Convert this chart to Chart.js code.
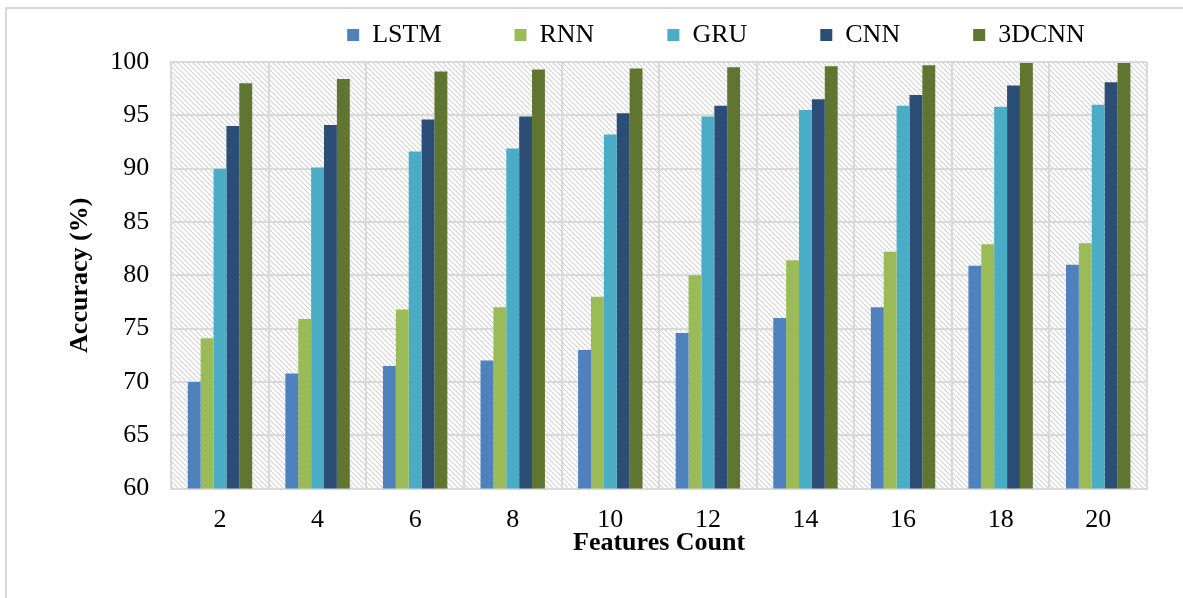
<!DOCTYPE html>
<html>
<head>
<meta charset="utf-8">
<script src="https://cdn.jsdelivr.net/npm/chart.js@4.4.0/dist/chart.umd.min.js"></script>
<style>
  html, body { margin: 0; padding: 0; background: #fff; overflow: hidden; }
  #frame { position: absolute; left: 5px; top: 7px; width: 1300px; height: 700px;
           border-left: 2px solid #d9d9d9; border-top: 2px solid #d9d9d9; }
  #accChart { position: absolute; left: 0; top: 0; }
</style>
</head>
<body>
<div id="frame"></div>
<canvas id="accChart" width="1183" height="598"></canvas>
<script>
// accuracy vs features count

var featureCounts = ['2', '4', '6', '8', '10', '12', '14', '16', '18', '20'];
var lstmAcc  = [70.0, 70.8, 71.5, 72.0, 73.0, 74.6, 76.0, 77.0, 80.9, 81.0];
var rnnAcc   = [74.1, 75.9, 76.8, 77.0, 78.0, 80.0, 81.4, 82.2, 82.9, 83.0];
var gruAcc   = [90.0, 90.1, 91.6, 91.9, 93.2, 94.9, 95.5, 95.9, 95.8, 96.0];
var cnnAcc   = [94.0, 94.1, 94.6, 94.9, 95.2, 95.9, 96.5, 96.9, 97.8, 98.1];
var cnn3dAcc = [98.0, 98.4, 99.1, 99.3, 99.4, 99.5, 99.6, 99.7, 99.9, 99.9];
var yTicks = [60, 65, 70, 75, 80, 85, 90, 95, 100];

var serif = "'Liberation Serif', 'Times New Roman', serif";

function makeHatch() {
    var c = document.createElement('canvas');
    c.width = 5;
    c.height = 5;
    var g = c.getContext('2d');
    g.strokeStyle = '#d4d4d4';
    g.lineWidth = 1.2;
    g.beginPath();
    g.moveTo(-1, -1); g.lineTo(6, 6);
    g.moveTo(-1, 4); g.lineTo(1, 6);
    g.moveTo(4, -1); g.lineTo(6, 1);
    g.stroke();
    return g.createPattern(c, 'repeat');
}

// diagonal hatch behind the plot area
var hatchBackground = {
    id: 'hatchBackground',
    beforeDraw: function(chart) {
        var a = chart.chartArea;
        var ctx = chart.ctx;
        ctx.save();
        ctx.fillStyle = makeHatch();
        ctx.fillRect(a.left, a.top, a.right - a.left, a.bottom - a.top);
        ctx.restore();
    }
};

// legend sits right of centre in the original
var legendShift = {
    id: 'legendShift',
    afterLayout: function(chart) {
        var lg = chart.legend;
        lg.left += 110;
        lg.right += 110;
        lg.top -= 4;
        lg.bottom -= 4;
    }
};

function renderAccuracyChart() {
    var ctx = document.getElementById('accChart').getContext('2d');

    new Chart(ctx, {
        type: 'bar',
        data: {
            labels: featureCounts,
            datasets: [
                { label: 'LSTM', data: lstmAcc, backgroundColor: '#4F81BD' },
                { label: 'RNN', data: rnnAcc, backgroundColor: '#9BBB59' },
                { label: 'GRU', data: gruAcc, backgroundColor: '#4BACC6' },
                { label: 'CNN', data: cnnAcc, backgroundColor: '#2C4D75' },
                { label: '3DCNN', data: cnn3dAcc, backgroundColor: '#5F7530' }
            ]
        },
        options: {
            responsive: false,
            animation: false,
            barPercentage: 1,
            categoryPercentage: 0.66,
            layout: {
                padding: { left: 65, right: 36, top: -47, bottom: 39 }
            },
            plugins: {
                legend: {
                    position: 'top',
                    labels: {
                        boxWidth: 12,
                        boxHeight: 12,
                        padding: 73,
                        color: '#000',
                        font: { family: serif, size: 26 }
                    }
                },
                tooltip: { enabled: false }
            },
            scales: {
                x: {
                    grid: { color: '#d9d9d9', lineWidth: 2, drawTicks: false },
                    border: { color: '#d9d9d9', width: 2 },
                    ticks: {
                        color: '#000',
                        padding: 16,
                        font: { family: serif, size: 26 }
                    },
                    title: {
                        display: true,
                        text: 'Features Count',
                        color: '#000',
                        padding: { top: -24, bottom: 0 },
                        font: { family: serif, size: 26, weight: 'bold' }
                    }
                },
                y: {
                    min: yTicks[0],
                    max: yTicks[yTicks.length - 1],
                    grid: { color: '#d9d9d9', lineWidth: 2, drawTicks: false },
                    border: { color: '#d9d9d9', width: 2 },
                    ticks: {
                        stepSize: yTicks[1] - yTicks[0],
                        color: '#000',
                        padding: 22,
                        font: { family: serif, size: 26 }
                    },
                    title: {
                        display: true,
                        text: 'Accuracy (%)',
                        color: '#000',
                        padding: { top: 0, bottom: -8 },
                        font: { family: serif, size: 26, weight: 'bold' }
                    }
                }
            }
        },
        plugins: [hatchBackground, legendShift]
    });
}

document.addEventListener('DOMContentLoaded', renderAccuracyChart);
</script>
</body>
</html>
